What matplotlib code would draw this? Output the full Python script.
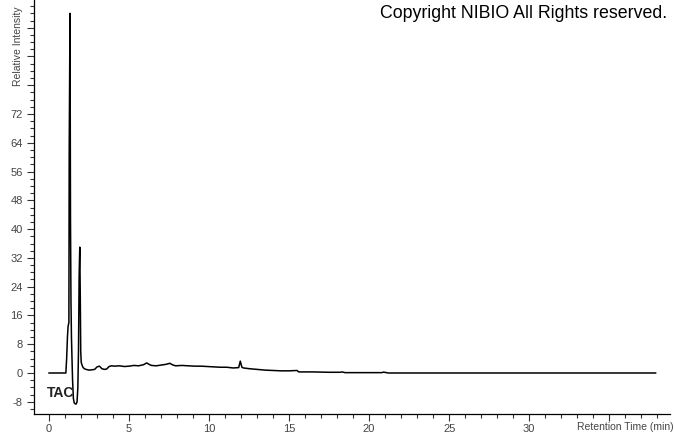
import matplotlib
matplotlib.use("Agg")
import matplotlib.pyplot as plt
from matplotlib.ticker import MultipleLocator, FixedLocator

# ── Chromatogram trace ───────────────────────────────────────────────────────
time_min = [0.00, 1.05, 1.10, 1.15, 1.19, 1.24, 1.26, 1.31, 1.34, 1.37, 1.40,
            1.44, 1.47, 1.52, 1.57, 1.64, 1.70, 1.75, 1.80, 1.84, 1.88, 1.92,
            1.95, 1.98, 2.01, 2.06, 2.12, 2.20, 2.31, 2.50, 2.70, 2.85, 3.00,
            3.15, 3.30, 3.45, 3.60, 3.75, 3.90, 4.10, 4.40, 4.70, 5.00, 5.30,
            5.60, 5.90, 6.10, 6.25, 6.40, 6.70, 7.00, 7.30, 7.55, 7.70, 7.90,
            8.30, 8.70, 9.10, 9.50, 9.90, 10.30, 10.70, 11.10, 11.50, 11.85,
            11.95, 12.05, 12.15, 12.50, 13.00, 13.50, 14.00, 14.50, 15.00,
            15.50, 15.60, 16.50, 17.50, 18.20, 18.30, 18.50, 20.00, 20.80,
            20.90, 21.20, 25.00, 30.00, 37.90]
intensity = [0.0, 0.0, 4.0, 10.0, 13.0, 14.0, 62.0, 100.0, 43.0, 20.0, 10.0,
             3.0, -2.0, -7.0, -8.3, -8.6, -8.6, -8.0, -4.0, 6.0, 27.0, 35.0,
             22.0, 6.0, 3.0, 2.2, 1.6, 1.2, 1.0, 0.8, 0.9, 1.0, 1.7,
             1.9, 1.2, 1.0, 1.1, 1.8, 2.0, 1.9, 2.0, 1.8, 1.9, 2.1,
             2.0, 2.3, 2.8, 2.4, 2.1, 2.0, 2.2, 2.4, 2.7, 2.3, 2.0,
             2.1, 2.0, 1.9, 1.9, 1.8, 1.7, 1.6, 1.6, 1.4, 1.5,
             3.3, 1.6, 1.4, 1.2, 1.0, 0.8, 0.7, 0.6, 0.6,
             0.7, 0.3, 0.3, 0.2, 0.2, 0.3, 0.1, 0.1, 0.1,
             0.25, 0.0, 0.0, 0.0, 0.0]

y_labeled = [-8, 0, 8, 16, 24, 32, 40, 48, 56, 64, 72]
y_unlabeled = [80, 88, 96]
x_labeled = [0, 5, 10, 15, 20, 25, 30]

fig = plt.figure(figsize=(6.74, 4.34), dpi=100)
ax = fig.add_axes([34 / 674, 20 / 434, 636 / 674, 414 / 434])

ax.plot(time_min, intensity, color="black", lw=1.1)

ax.set_xlim(-0.94, 38.8)
ax.set_ylim(-11.4, 103.7)

for side in ("top", "right"):
    ax.spines[side].set_visible(False)
for side in ("left", "bottom"):
    ax.spines[side].set_linewidth(0.9)

ax.yaxis.set_major_locator(FixedLocator(y_labeled + y_unlabeled))
ax.set_yticklabels([str(v) for v in y_labeled] + [""] * len(y_unlabeled))
ax.yaxis.set_minor_locator(MultipleLocator(2))
ax.xaxis.set_major_locator(FixedLocator(x_labeled + [35]))
ax.set_xticklabels([str(v) for v in x_labeled] + [""])
ax.xaxis.set_minor_locator(MultipleLocator(1))

ax.tick_params(which="major", length=5, width=0.8, color="#333333",
               labelsize=8, labelcolor="#444444", pad=2)
ax.tick_params(which="minor", length=3, width=0.8, color="#333333")
ax.tick_params(axis="y", pad=3)
for lbl in ax.get_xticklabels() + ax.get_yticklabels():
    lbl.set_family("Liberation Sans")

ax.text(-0.12, -5.6, "TAC", fontsize=10, fontweight="bold",
        family="Liberation Sans", ha="left", va="center", color="#222222")

fig.text(577 / 674, 7 / 434, "Retention Time (min)", fontsize=7.5,
         family="Liberation Sans", color="#444444", ha="left", va="center")
fig.text(18 / 674, (434 - 86) / 434, "Relative Intensity", fontsize=7.5,
         family="Liberation Sans", color="#444444", rotation=90,
         ha="center", va="bottom")
fig.text(667 / 674, (434 - 14) / 434, "Copyright NIBIO All Rights reserved.",
         fontsize=12.8, family="Liberation Sans", color="black",
         ha="right", va="center")

fig.savefig("out.png", dpi=100)
